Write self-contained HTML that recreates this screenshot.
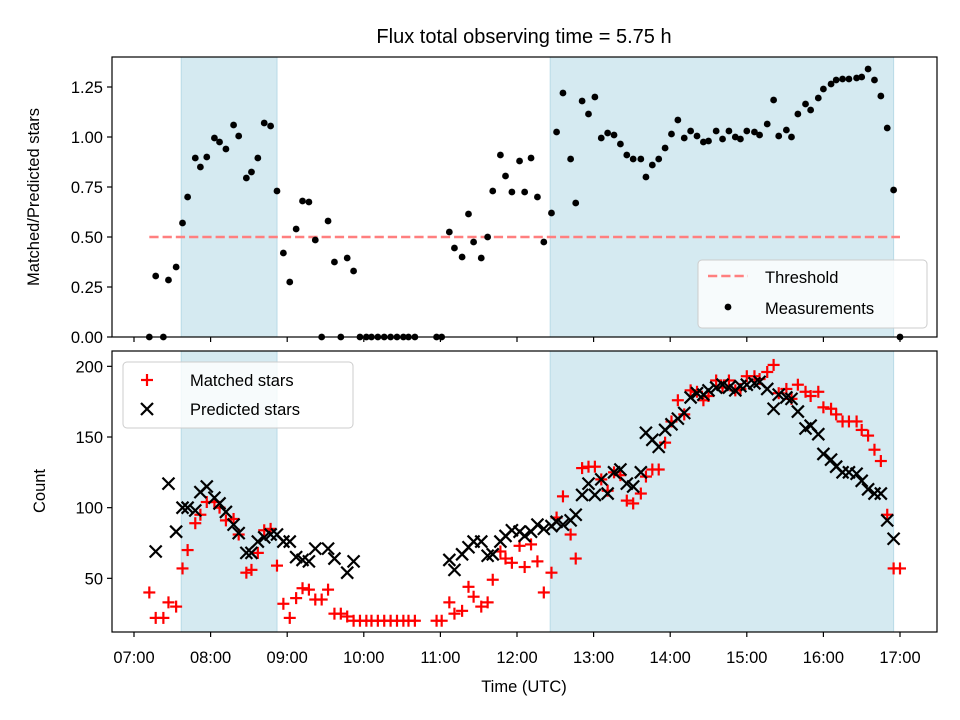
<!DOCTYPE html>
<html><head><meta charset="utf-8"><style>
body{margin:0;background:#fff}
svg{display:block;font-family:"Liberation Sans",sans-serif}
</style></head><body>
<svg id="c" width="960" height="720" viewBox="0 0 960 720"></svg>
<script>
// minutes after 07:00 UTC
const times=[12,17,23,27,33,38,42,48,52,57,63,67,72,78,82,88,92,97,102,107,112,117,122,127,132,137,142,147,152,157,162,167,172,177,182,186,191,196,201,206,211,215,220,237,241,247,251,257,262,266,272,277,281,287,291,296,302,306,311,316,321,327,331,336,342,346,351,356,361,366,371,376,381,386,391,397,401,406,411,416,421,426,431,436,441,446,450,456,461,466,471,475,480,486,490,496,501,505,511,515,520,526,530,536,540,546,550,555,560,566,570,575,580,585,590,595,600];
const ratio=[0,.305,0,.285,.35,.57,.70,.895,.85,.90,.995,.975,.94,1.06,1.005,.795,.825,.895,1.07,1.055,.73,.42,.275,.54,.68,.675,.485,0,.58,.375,0,.395,.33,0,0,0,0,0,0,0,0,0,0,0,0,.525,.445,.40,.615,.475,.395,.50,.73,.91,.805,.725,.88,.725,.895,.70,.475,.62,1.025,1.22,.89,.67,1.18,1.115,1.2,.995,1.02,1.01,.965,.91,.89,.89,.80,.86,.89,.945,1.015,1.085,.995,1.03,1.005,.975,.98,1.03,.99,1.03,1.0,.99,1.03,1.025,1.01,1.065,1.185,1.005,1.035,1.0,1.115,1.165,1.135,1.195,1.24,1.265,1.285,1.29,1.29,1.295,1.30,1.34,1.285,1.205,1.045,.735,0];
const matched=[40,22,22,33,30,57,70,89,95,104,104,100,91,92,81,54,56,68,84,85,59,32,22,36,43,42,35,35,42,25,25,23,20,20,20,20,20,20,20,20,20,20,20,20,20,33,25,27,44,37,30,33,49,69,64,61,73,58,74,62,40,54,93,108,81,64,128,129,129,120,112,125,123,105,103,110,122,127,127,146,161,176,166,183,182,176,179,190,185,190,183,184,193,193,191,196,201,181,184,177,187,182,179,182,171,170,166,161,161,161,155,151,141,133,95,57,57];
const predicted=[null,69,null,117,83,100,100,98,111,115,107,103,97,88,82,68,68,76,79,81,81,76,76,65,63,62,71,null,71,64,null,54,62,null,null,null,null,null,null,null,null,null,null,null,null,63,56,67,72,76,76,66,67,76,80,84,83,80,83,88,85,87,90,88,91,95,109,117,109,120,110,125,127,117,115,125,153,148,143,155,159,163,167,178,181,180,183,185,187,185,183,186,187,188,189,184,170,180,178,177,168,156,158,152,138,134,129,125,125,124,119,113,110,110,91,78,null];
const spans=[[37,112],[326,595]];
const threshold=0.5, thrStart=12, thrEnd=600;
const xTicks=[0,60,120,180,240,300,360,420,480,540,600];
const xTickLabels=["07:00","08:00","09:00","10:00","11:00","12:00","13:00","14:00","15:00","16:00","17:00"];
const topTicks=[0,0.25,0.5,0.75,1.0,1.25];
const topTickLabels=["0.00","0.25","0.50","0.75","1.00","1.25"];
const botTicks=[50,100,150,200];

const svg=document.getElementById('c');const NS="http://www.w3.org/2000/svg";
function el(t,a,p){const e=document.createElementNS(NS,t);for(const k in a)e.setAttribute(k,a[k]);(p||svg).appendChild(e);return e;}
const L=112,R=937,T1=57,B1=337,T2=351,B2=632;
const xs=m=>134+(m)*76.6/60;
const y1=v=>B1-v*200;
const y2=v=>649-v*1.4133;

function panel(T,B,name){
  const g=el('g',{});
  for(const s of spans){const r=el('rect',{x:xs(s[0]),y:T,width:xs(s[1])-xs(s[0]),height:B-T,fill:'#d5eaf1',stroke:'#b9dbe7','stroke-width':1},g);
    }
  return g;
}
const g1=panel(T1,B1,'top-panel');
const thr=el('line',{x1:xs(thrStart),x2:xs(thrEnd),y1:y1(threshold),y2:y1(threshold),stroke:'#ff7f7f','stroke-width':2.5,'stroke-dasharray':'9.25,4'},g1);

times.forEach((t,i)=>{const c=el('circle',{cx:xs(t),cy:y1(ratio[i]),r:3.4,fill:'#000'},g1);
  });

const g2=panel(T2,B2,'bottom-panel');
function plus(x,y,p){const g=el('g',{stroke:'#f00','stroke-width':2.2},p);el('line',{x1:x-6,x2:x+6,y1:y,y2:y},g);el('line',{x1:x,x2:x,y1:y-6,y2:y+6},g);return g;}
function cross(x,y,p){const g=el('g',{stroke:'#000','stroke-width':2.2},p);el('line',{x1:x-6,x2:x+6,y1:y-6,y2:y+6},g);el('line',{x1:x-6,x2:x+6,y1:y+6,y2:y-6},g);return g;}
times.forEach((t,i)=>{const m=plus(xs(t),y2(matched[i]),g2);
  });
times.forEach((t,i)=>{if(predicted[i]==null)return;const p=cross(xs(t),y2(predicted[i]),g2);
  });

[[T1,B1],[T2,B2]].forEach(([T,B],k)=>{
  const f=el('rect',{x:L,y:T,width:R-L,height:B-T,fill:'none',stroke:'#000','stroke-width':1.2});
  
  xTicks.forEach((m,i)=>{el('line',{x1:xs(m),x2:xs(m),y1:B,y2:B+5,stroke:'#000','stroke-width':1.2});
    if(k){const tx=el('text',{x:xs(m),y:B+31,'font-size':16.5,'text-anchor':'middle'});tx.textContent=xTickLabels[i];
      }});
});
topTicks.forEach((v,i)=>{el('line',{x1:L-5,x2:L,y1:y1(v),y2:y1(v),stroke:'#000','stroke-width':1.2});
  const t=el('text',{x:L-9,y:y1(v)+6,'font-size':16.5,'text-anchor':'end'});t.textContent=topTickLabels[i];
  });
botTicks.forEach(v=>{el('line',{x1:L-5,x2:L,y1:y2(v),y2:y2(v),stroke:'#000','stroke-width':1.2});
  const t=el('text',{x:L-9,y:y2(v)+6,'font-size':16.5,'text-anchor':'end'});t.textContent=String(v);
  });

function txt(s,a,name){const t=el('text',a);t.textContent=s;return t;}
txt('Flux total observing time = 5.75 h',{x:524,y:43,'font-size':20,'text-anchor':'middle'},'chart-title');
txt('Matched/Predicted stars',{x:0,y:0,'font-size':16.5,'text-anchor':'middle',transform:'translate(39,197) rotate(-90)'},'top-y-axis-title');
txt('Count',{x:0,y:0,'font-size':16.5,'text-anchor':'middle',transform:'translate(45,491) rotate(-90)'},'bottom-y-axis-title');
txt('Time (UTC)',{x:524,y:692,'font-size':16.5,'text-anchor':'middle'},'x-axis-title');

const lg1=el('g',{});
el('rect',{x:698,y:260,width:229,height:68,rx:4,fill:'#fff','fill-opacity':0.8,stroke:'#ccc'},lg1);
el('line',{x1:708,x2:748,y1:276,y2:276,stroke:'#ff7f7f','stroke-width':2.5,'stroke-dasharray':'9.25,4'},lg1);
el('circle',{cx:728,cy:307,r:3.4,fill:'#000'},lg1);
const a=txt('Threshold',{x:765,y:283,'font-size':16.5},'legend-entry-threshold');lg1.appendChild(a);
const b=txt('Measurements',{x:765,y:314,'font-size':16.5},'legend-entry-measurements');lg1.appendChild(b);

const lg2=el('g',{});
el('rect',{x:123,y:362,width:230,height:66,rx:4,fill:'#fff','fill-opacity':0.8,stroke:'#ccc'},lg2);
plus(147,380,lg2);cross(147,409,lg2);
const c=txt('Matched stars',{x:190,y:386,'font-size':16.5},'legend-entry-matched');lg2.appendChild(c);
const d=txt('Predicted stars',{x:190,y:415,'font-size':16.5},'legend-entry-predicted');lg2.appendChild(d);
</script>
</body></html>
